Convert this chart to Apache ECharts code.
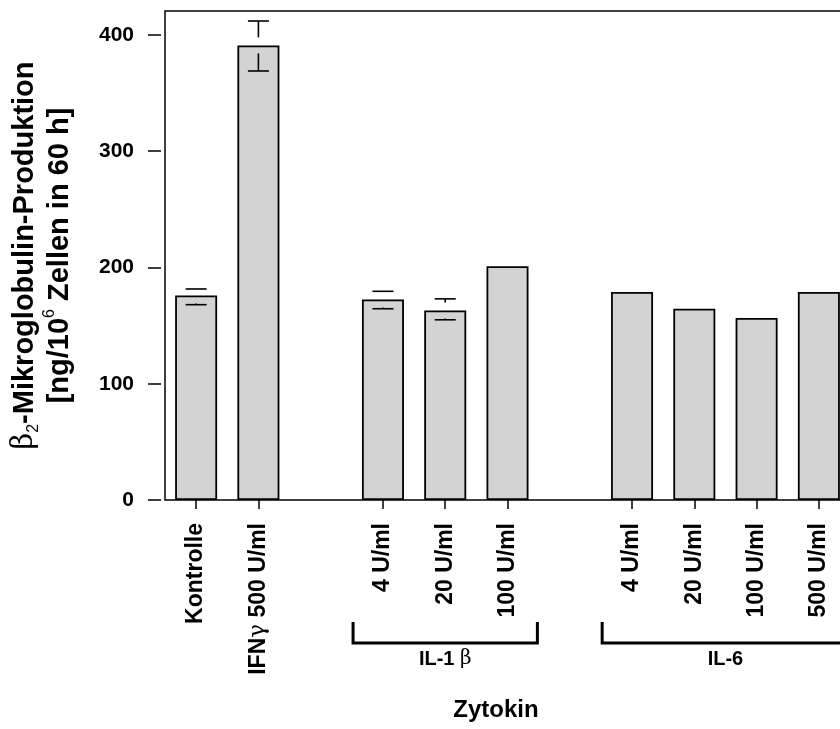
<!DOCTYPE html>
<html>
<head>
<meta charset="utf-8">
<script src="https://cdn.jsdelivr.net/npm/echarts@6/dist/echarts.min.js"></script>
<style>
  html, body { margin: 0; padding: 0; background: #fff; }
  #chart { width: 840px; height: 729px; }
</style>
</head>
<body>
<div id="chart"></div>
<script>
// ---- data ----
const categories = ['Kontrolle', 'IFNγ 500 U/ml', '', '4 U/ml', '20 U/ml', '100 U/ml', '', '4 U/ml', '20 U/ml', '100 U/ml', '500 U/ml'];
const values     = [176, 391, null, 172.5, 163, 201, null, 179, 164.5, 156.5, 179];
const errLow     = [168, 369, null, 164.5, 155, null, null, null, null, null, null];
const errHigh    = [181.5, 412, null, 179.5, 173, null, null, null, null, null, null];
const yTicks     = [0, 100, 200, 300, 400];
const yMax       = 420.6;
const groupNames = ['IL-1 {g|β}', 'IL-6'];
const groupFrom  = [3, 7];
const groupTo    = [5, 10];
const yTitle     = '{b|β}{s|2}-Mikroglobulin-Produktion\n[ng/10{p|6} Zellen in 60 h]';
const xTitle     = 'Zytokin';

// ---- build ----
const FONT = 'Liberation Sans';
const chart = echarts.init(document.getElementById('chart'), null, { renderer: 'canvas' });

const errData = [];
values.forEach((v, i) => {
  if (errLow[i] != null && errHigh[i] != null) errData.push([i, errLow[i], errHigh[i], v]);
});
const groupData = groupNames.map((n, i) => [groupFrom[i], groupTo[i]]);

function labelFor(c) {
  return c.replace('γ', '{g|γ}');
}

const option = {
  animation: false,
  backgroundColor: '#fff',
  grid: {
    left: 165, top: 11, width: 685, bottom: 229,
    outerBoundsMode: 'none', containLabel: false,
    show: true, borderColor: '#000', borderWidth: 1.5, backgroundColor: 'transparent'
  },
  xAxis: {
    type: 'category',
    data: categories.map((c, i) => String(i)),
    boundaryGap: true,
    offset: 3,
    axisLine: { show: false },
    axisTick: {
      show: true, alignWithLabel: true, length: 9,
      interval: (idx) => categories[idx] !== '',
      lineStyle: { color: '#000', width: 1.5 }
    },
    axisLabel: {
      interval: 0, rotate: 90, margin: 20, hideOverlap: false,
      formatter: (v) => labelFor(categories[+v]),
      fontFamily: FONT, fontWeight: 'bold', fontSize: 23, color: '#000',
      rich: { g: { fontFamily: 'DejaVu Serif', fontWeight: 'normal', fontSize: 23, color: '#000' } }
    },
    splitLine: { show: false }
  },
  yAxis: {
    type: 'value', min: 0, max: yMax, offset: 4,
    axisLine: { show: false },
    axisTick: { show: true, length: 13, customValues: yTicks, lineStyle: { color: '#000', width: 1.5 } },
    axisLabel: {
      customValues: yTicks, margin: 27,
      fontFamily: FONT, fontWeight: 'bold', fontSize: 21, color: '#000'
    },
    splitLine: { show: false },
    name: yTitle,
    nameLocation: 'middle', nameRotate: 90, nameGap: 84,
    nameTextStyle: {
      fontFamily: FONT, fontWeight: 'bold', fontSize: 29, color: '#000', lineHeight: 35, align: 'center',
      rich: {
        b: { fontFamily: 'DejaVu Serif', fontWeight: 'normal', fontSize: 29, color: '#000', lineHeight: 35 },
        s: { fontFamily: FONT, fontWeight: 'normal', fontSize: 16, color: '#000', lineHeight: 35, verticalAlign: 'bottom' },
        p: { fontFamily: FONT, fontWeight: 'normal', fontSize: 16, color: '#000', lineHeight: 35, verticalAlign: 'top' }
      }
    }
  },
  graphic: [{
    type: 'text', x: 496, y: 710,
    style: { text: xTitle, fill: '#000', font: 'bold 24px "Liberation Sans"', align: 'center', verticalAlign: 'middle' }
  }],
  series: [
    {
      type: 'bar', data: values, barWidth: 42,
      itemStyle: { color: '#d3d3d3', borderColor: '#000', borderWidth: 1.8 },
      z: 2
    },
    {
      type: 'custom', data: errData, clip: false, z: 5,
      renderItem: (params, api) => {
        const idx = api.value(0);
        const pLo = api.coord([idx, api.value(1)]);
        const pHi = api.coord([idx, api.value(2)]);
        const pM = api.coord([idx, api.value(3)]);
        const x = pM[0], half = 10.5, gap = 8;
        const st = { stroke: '#000', lineWidth: 1.6 };
        const ch = [
          { type: 'line', shape: { x1: x - half, y1: pHi[1], x2: x + half, y2: pHi[1] }, style: st },
          { type: 'line', shape: { x1: x - half, y1: pLo[1], x2: x + half, y2: pLo[1] }, style: st }
        ];
        if (pM[1] - gap > pHi[1]) ch.push({ type: 'line', shape: { x1: x, y1: pHi[1], x2: x, y2: pM[1] - gap }, style: st });
        if (pLo[1] > pM[1] + gap) ch.push({ type: 'line', shape: { x1: x, y1: pM[1] + gap, x2: x, y2: pLo[1] }, style: st });
        return { type: 'group', children: ch };
      }
    },
    {
      type: 'custom', data: groupData, clip: false, z: 5, silent: true,
      renderItem: (params, api) => {
        const slot = api.size([1, 0])[0];
        const a = api.coord([api.value(0), 0]);
        const b = api.coord([api.value(1), 0]);
        const x1 = a[0] - 0.48 * slot, x2 = b[0] + 0.48 * slot, y0 = a[1];
        return {
          type: 'group',
          children: [
            { type: 'polyline', shape: { points: [[x1, y0 + 122], [x1, y0 + 143], [x2, y0 + 143], [x2, y0 + 122]] },
              style: { stroke: '#000', lineWidth: 3, fill: null } },
            { type: 'text', style: {
                text: groupNames[params.dataIndex], x: (x1 + x2) / 2, y: y0 + 159,
                align: 'center', verticalAlign: 'middle', fill: '#000',
                font: 'bold 20px "Liberation Sans"',
                rich: { g: { fontFamily: 'DejaVu Serif', fontWeight: 'normal', fontSize: 20, fill: '#000' } }
              } }
          ]
        };
      }
    }
  ]
};
chart.setOption(option);
</script>
</body>
</html>
